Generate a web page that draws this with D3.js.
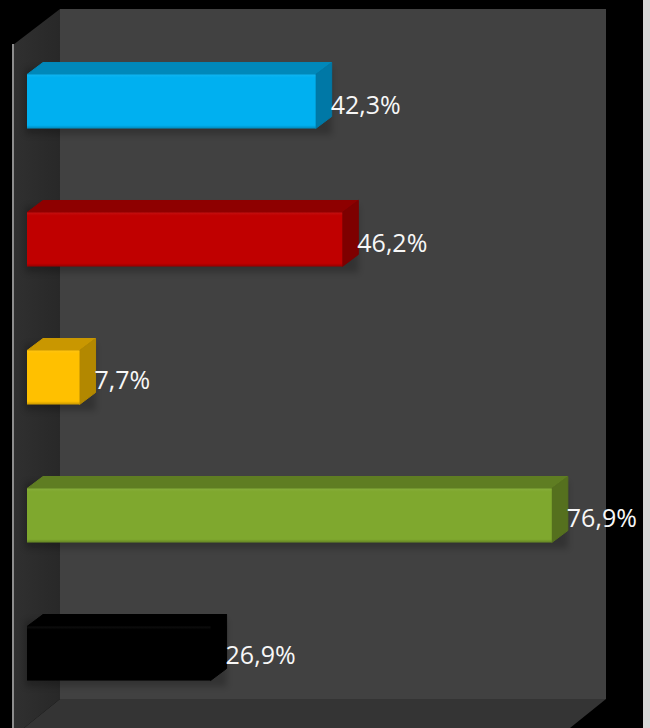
<!DOCTYPE html>
<html>
<head>
<meta charset="utf-8">
<script src="https://cdn.jsdelivr.net/npm/d3@7"></script>
<style>
html,body{margin:0;padding:0;background:#000;overflow:hidden}
text{font-family:"Open Sans",sans-serif;fill:#F7F7F7}
</style>
</head>
<body>
<svg id="chart" width="650" height="728"></svg>
<script>
const categories = ["A", "B", "C", "D", "E"];
const values = [42.3, 46.2, 7.7, 76.9, 26.9];
const labels = ["42,3%", "46,2%", "7,7%", "76,9%", "26,9%"];
const frontColors = ["#00B0F0", "#C00000", "#FFC000", "#7FA82E", "#000000"];
const topColors = ["#0088BA", "#8E0000", "#C99700", "#5F7D22", "#000000"];
const sideColors = ["#0078A6", "#7E0000", "#B38800", "#55701E", "#000000"];

const W = 650, H = 728;
const depthX = 16, depthY = 12;

const svg = d3.select("#chart");
const x = d3.scaleLinear().domain([0, 100]).range([27, 709.5]);
const y = d3.scaleBand().domain(categories).range([32.5, 722.5]).paddingInner(0.6087).paddingOuter(0.3043);
const labelY = d3.scalePoint().domain(categories).range([114, 664]);

const defs = svg.append("defs");
const wallGrad = defs.append("linearGradient").attr("id", "sideWall");
wallGrad.append("stop").attr("offset", 0).attr("stop-color", "#303030");
wallGrad.append("stop").attr("offset", 1).attr("stop-color", "#282828");
const edgeGrad = defs.append("linearGradient").attr("id", "frontShade").attr("x2", 0).attr("y2", 1);
edgeGrad.append("stop").attr("offset", 0).attr("stop-color", "#fff").attr("stop-opacity", 0.06);
edgeGrad.append("stop").attr("offset", 0.06).attr("stop-color", "#fff").attr("stop-opacity", 0);
edgeGrad.append("stop").attr("offset", 0.94).attr("stop-color", "#000").attr("stop-opacity", 0);
edgeGrad.append("stop").attr("offset", 1).attr("stop-color", "#000").attr("stop-opacity", 0.22);
defs.append("filter").attr("id", "soft").attr("x", "-10%").attr("y", "-20%").attr("width", "120%").attr("height", "140%")
  .append("feGaussianBlur").attr("stdDeviation", 3);

const poly = pts => d3.line()(pts) + "Z";

// Page backdrop and the grey strip on the right
svg.append("rect").attr("width", W).attr("height", H).attr("fill", "#000");
svg.append("rect").attr("x", 643).attr("width", 7).attr("height", H).attr("fill", "#D9D9D9");

// Chart box: back wall, side wall, floor
svg.append("rect").attr("x", 60).attr("y", 9).attr("width", 546).attr("height", 690).attr("fill", "#414141");
svg.append("path").attr("d", poly([[13, 45], [60, 9], [60, 699], [24, 728], [13, 728]])).attr("fill", "url(#sideWall)");
svg.append("path").attr("d", poly([[60, 699], [606, 699], [570, 728], [24, 728]])).attr("fill", "#343434");
svg.append("line").attr("x1", 13).attr("x2", 13).attr("y1", 44).attr("y2", H)
  .attr("stroke", "#8C8C8C").attr("stroke-width", 2);

// One 3D bar per category
const bars = svg.selectAll("g.bar").data(categories).join("g").attr("class", "bar");

bars.append("rect")
  .attr("x", x(0) - 2)
  .attr("y", d => y(d) - 6)
  .attr("width", (d, i) => x(values[i]) - x(0) + depthX + 2)
  .attr("height", y.bandwidth() + 12)
  .attr("fill", "#000").attr("opacity", 0.22).attr("filter", "url(#soft)");

bars.append("path")
  .attr("d", (d, i) => poly([[x(0), y(d)], [x(0) + depthX, y(d) - depthY], [x(values[i]) + depthX, y(d) - depthY], [x(values[i]), y(d)]]))
  .attr("fill", (d, i) => topColors[i])
  .attr("stroke", (d, i) => topColors[i]).attr("stroke-linejoin", "round");

bars.append("path")
  .attr("d", (d, i) => poly([[x(values[i]), y(d)], [x(values[i]) + depthX, y(d) - depthY], [x(values[i]) + depthX, y(d) + y.bandwidth() - depthY], [x(values[i]), y(d) + y.bandwidth()]]))
  .attr("fill", (d, i) => sideColors[i])
  .attr("stroke", (d, i) => sideColors[i]).attr("stroke-linejoin", "round");

bars.append("rect")
  .attr("x", x(0))
  .attr("y", d => y(d))
  .attr("width", (d, i) => x(values[i]) - x(0))
  .attr("height", y.bandwidth())
  .attr("fill", (d, i) => frontColors[i]);

bars.append("rect")
  .attr("x", x(0))
  .attr("y", d => y(d))
  .attr("width", (d, i) => x(values[i]) - x(0))
  .attr("height", y.bandwidth())
  .attr("fill", "url(#frontShade)");

// Value labels
bars.append("text")
  .attr("x", (d, i) => x(values[i]) + depthX - 1)
  .attr("y", d => labelY(d))
  .attr("font-size", 25)
  .text((d, i) => labels[i]);
</script>
</body>
</html>
